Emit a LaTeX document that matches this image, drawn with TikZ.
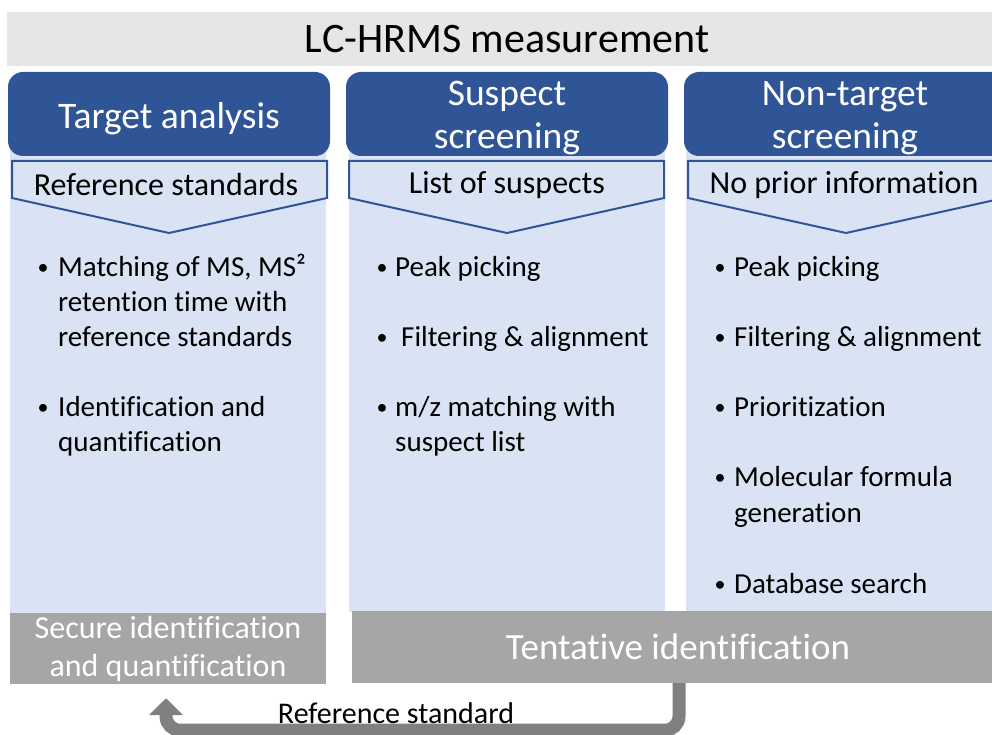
\documentclass[tikz,border=0pt]{standalone}
\usepackage{fontspec}
\setmainfont[Ligatures=NoCommon]{Carlito}
\usetikzlibrary{arrows.meta}
\definecolor{hdrblue}{HTML}{2F5597}
\definecolor{colblue}{HTML}{DAE3F3}
\definecolor{topgray}{HTML}{E6E6E6}
\definecolor{botgray}{HTML}{A6A6A6}
\definecolor{arrgray}{HTML}{808080}
\tikzset{
  hdrbox/.style={fill=hdrblue, draw=none, rounded corners=15pt, minimum width=322pt, minimum height=84pt, inner sep=0pt},
  hdrtext/.style={text=white, align=center, font=\fontsize{37.5}{43}\selectfont, inner sep=0pt},
  colbox/.style={fill=colblue, draw=none},
  chev/.style={fill=colblue, draw=hdrblue, line width=2pt, line join=miter},
  chevtext/.style={font=\fontsize{32}{37}\selectfont, inner sep=0pt},
  bodytext/.style={font=\fontsize{29}{35}\selectfont, inner sep=0pt, anchor=base west},
  bullet/.style={font=\fontsize{22}{26}\selectfont, inner sep=0pt, anchor=base},
  resbox/.style={fill=botgray, draw=none, text=white, align=center, inner sep=0pt},
  fbarrow/.style={draw=arrgray, line width=13pt, rounded corners=14pt, -{Triangle[width=33pt,length=17pt]}},
}
\begin{document}
\begin{tikzpicture}[x=1pt,y=-1pt]
\clip (0,0) rectangle (992,735);
\fill[white] (0,0) rectangle (992,735);
% top band
\node[fill=topgray, minimum width=1000pt, minimum height=54pt, inner sep=0pt, font=\fontsize{42}{50}\selectfont] (top) at (507,39) {LC-HRMS measurement};
% columns
\fill[colbox] (10,150) rectangle (326,613);
\fill[colbox] (349,150) rectangle (665,612);
\fill[colbox] (686,150) rectangle (1002,612);
% headers
\node[hdrbox] (h1) at (169,114) {};
\node[hdrbox] (h2) at (507,114) {};
\node[hdrbox] (h3) at (845,114) {};
\node[hdrtext] (h1t) at ([yshift=-5pt]h1.center) {Target analysis};
\node[hdrtext] (h2t) at ([yshift=-4pt]h2.center) {Suspect\\screening};
\node[hdrtext] (h3t) at ([yshift=-4pt]h3.center) {Non-target\\screening};
% chevrons
\draw[chev] (12,161) -- (327,161) -- (327,198) -- (169,233) -- (12,198) -- cycle;
\draw[chev] (349,161) -- (664,161) -- (664,198) -- (507,233) -- (349,198) -- cycle;
\draw[chev] (688,161) -- (1004,161) -- (1004,198) -- (846,233) -- (688,198) -- cycle;
\node[chevtext] (c1) at (166,185) {Reference standards};
\node[chevtext] (c2) at (507,185) {List of suspects};
\node[chevtext] (c3) at (844,185) {No prior information};
% column 1
\node[bullet] (b11) at (43,274) {•};
\node[bodytext] (t11a) at (58,276) {Matching of MS, MS²};
\node[bodytext] (t11b) at (58,311) {retention time with};
\node[bodytext] (t11c) at (58,346) {reference standards};
\node[bullet] (b12) at (43,414) {•};
\node[bodytext] (t12a) at (58,416) {Identification and};
\node[bodytext] (t12b) at (58,451) {quantification};
% column 2
\node[bullet] (b21) at (382,274) {•};
\node[bodytext] (t21) at (395,276) {Peak picking};
\node[bullet] (b22) at (382,344) {•};
\node[bodytext] (t22) at (401,346) {Filtering \& alignment};
\node[bullet] (b23) at (382,414) {•};
\node[bodytext] (t23a) at (395,416) {m/z matching with};
\node[bodytext] (t23b) at (395,451) {suspect list};
% column 3
\node[bullet] (b31) at (720,274) {•};
\node[bodytext] (t31) at (734,276) {Peak picking};
\node[bullet] (b32) at (720,344) {•};
\node[bodytext] (t32) at (734,346) {Filtering \& alignment};
\node[bullet] (b33) at (720,414) {•};
\node[bodytext] (t33) at (734,416) {Prioritization};
\node[bullet] (b34) at (720,484) {•};
\node[bodytext] (t34a) at (734,486) {Molecular formula};
\node[bodytext] (t34b) at (734,522) {generation};
\node[bullet] (b35) at (720,591) {•};
\node[bodytext] (t35) at (734,593) {Database search};
% results
\node[resbox, minimum width=316pt, minimum height=71pt, font=\fontsize{32}{38}\selectfont] (sec) at (168,648.5) {Secure identification\\and quantification};
\node[resbox, minimum width=652pt, minimum height=72pt, font=\fontsize{37}{43}\selectfont] (tent) at (678,647) {Tentative identification};
% feedback arrow
\draw[fbarrow] ([xshift=1pt]tent.south) -- ++(0,47) -| ([xshift=-2pt,yshift=-14pt]sec.south);
\node[font=\fontsize{30}{34}\selectfont, inner sep=0pt] (lbl) at (396,713) {Reference standard};
\end{tikzpicture}
\end{document}
